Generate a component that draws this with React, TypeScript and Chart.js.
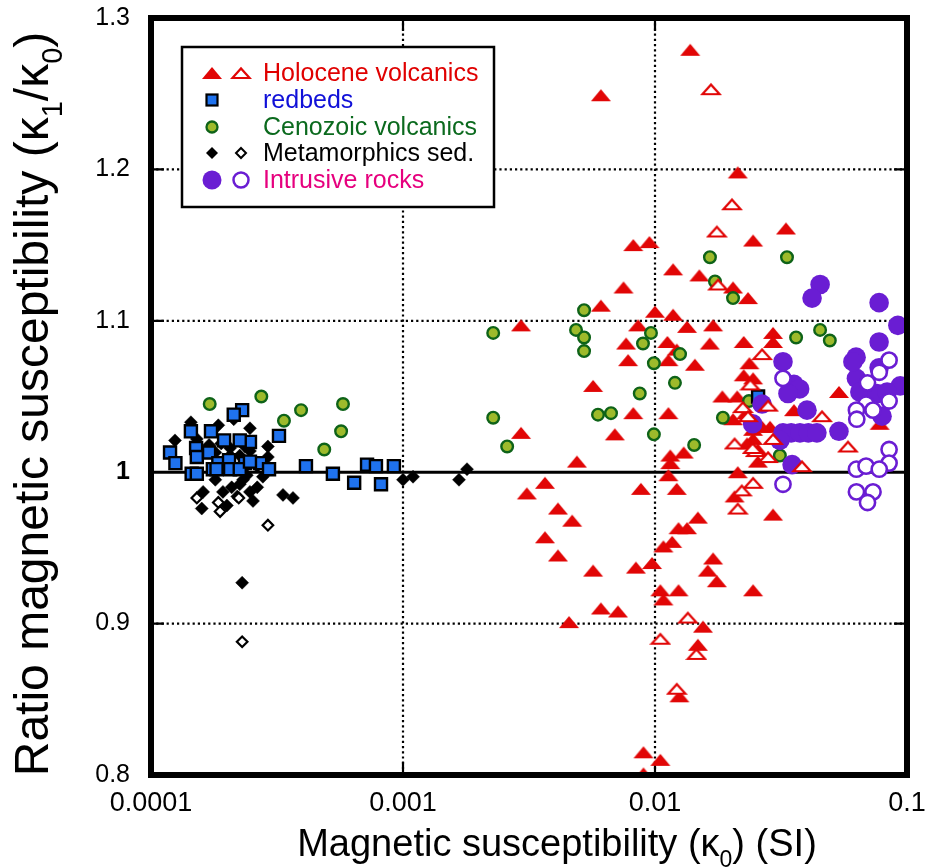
import React, { useEffect, useRef } from 'react';
import { Chart, registerables } from 'chart.js';

Chart.register(...registerables);

// ---------------- DATA ----------------
const xTickValues = [0.0001, 0.001, 0.01, 0.1];
const xTickLabels = ['0.0001', '0.001', '0.01', '0.1'];
const yTickValues = [0.8, 0.9, 1.0, 1.1, 1.2, 1.3];
const yTickLabels = ['0.8', '0.9', '1', '1.1', '1.2', '1.3'];
const dottedX = [0.001, 0.01];
const dottedY = [0.9, 1.1, 1.2];
const solidY = [1.0];

const legendLabels = ['Holocene volcanics', 'redbeds', 'Cenozoic volcanics', 'Metamorphics sed.', 'Intrusive rocks'];

const xTitleParts = [{ t: 'Magnetic susceptibility (κ' }, { t: '0', sub: true }, { t: ') (SI)' }];
const yTitleParts = [{ t: 'Ratio magnetic susceptibility (κ' }, { t: '1', sub: true }, { t: '/κ' }, { t: '0', sub: true }, { t: ')' }];

// Holocene volcanics (filled triangles)
const holoFilledX = [
  0.0138, 0.0061, 0.0213, 0.0331, 0.0245, 0.0082, 0.0095, 0.0118, 0.0150, 0.0204,
  0.0234, 0.0075, 0.0061, 0.0100, 0.0118, 0.00294, 0.00857, 0.0134, 0.0170, 0.0294,
  0.0294, 0.00768, 0.0112, 0.0122, 0.0165, 0.0225, 0.00782, 0.0113, 0.0144, 0.0237,
  0.0225, 0.0245, 0.00568, 0.0185, 0.0212, 0.0537, 0.0356, 0.0082, 0.0113, 0.0230,
  0.0204, 0.0286, 0.0245, 0.0779, 0.0245, 0.0232, 0.00294, 0.00693, 0.0115, 0.0130,
  0.0256, 0.0049, 0.0115, 0.0213, 0.0113, 0.00366, 0.0031, 0.00879, 0.0122, 0.0207,
  0.0294, 0.00412, 0.00469, 0.0148, 0.0124, 0.0134, 0.00366, 0.0117, 0.0108, 0.00412,
  0.0170, 0.00973, 0.0084, 0.0162, 0.00568, 0.0176, 0.0245, 0.0105, 0.0124, 0.0108,
  0.0061, 0.00713, 0.00456, 0.0155, 0.0148, 0.0125, 0.0090, 0.0105, 0.0090, 0.0266, 0.0256,
];
const holoFilledY = [
  1.279, 1.249, 1.198, 1.161, 1.153, 1.150, 1.152, 1.134, 1.130, 1.122,
  1.115, 1.122, 1.110, 1.106, 1.104, 1.097, 1.097, 1.096, 1.097, 1.092,
  1.086, 1.085, 1.086, 1.081, 1.085, 1.086, 1.074, 1.074, 1.071, 1.072,
  1.064, 1.062, 1.057, 1.050, 1.050, 1.053, 1.041, 1.039, 1.039, 1.039,
  1.035, 1.030, 1.028, 1.032, 1.022, 1.019, 1.026, 1.025, 1.011, 1.013,
  1.007, 1.007, 1.006, 1.000, 0.998, 0.993, 0.986, 0.989, 0.989, 0.984,
  0.972, 0.976, 0.968, 0.970, 0.963, 0.963, 0.957, 0.954, 0.951, 0.945,
  0.943, 0.940, 0.937, 0.935, 0.935, 0.928, 0.922, 0.922, 0.922, 0.916,
  0.910, 0.908, 0.901, 0.898, 0.886, 0.852, 0.815, 0.810, 0.801, 1.030, 1.015,
];

// Holocene volcanics (open triangles)
const holoOpenX = [
  0.01668, 0.0202, 0.0176, 0.0178, 0.0266, 0.0239, 0.0223, 0.0281, 0.0234, 0.0460,
  0.0207, 0.0294, 0.0251, 0.0281, 0.0383, 0.0583, 0.0245, 0.0221, 0.0213, 0.0135,
  0.0105, 0.0146, 0.0122, 0.0244,
];
const holoOpenY = [
  1.253, 1.177, 1.159, 1.124, 1.078, 1.058, 1.043, 1.044, 1.037, 1.037,
  1.019, 1.022, 1.014, 1.010, 1.004, 1.017, 0.993, 0.988, 0.976, 0.904,
  0.890, 0.880, 0.857, 1.016,
];

// redbeds (squares)
const redbedsX = [
  0.000230, 0.000213, 0.000173, 0.000144, 0.000195, 0.000247, 0.000225, 0.000322, 0.000119, 0.000151,
  0.000152, 0.000170, 0.000125, 0.000185, 0.000204, 0.000236, 0.000271, 0.000145, 0.000152, 0.000176,
  0.000206, 0.000225, 0.000294, 0.000247, 0.000182, 0.000412, 0.000527, 0.000640, 0.000720, 0.000781,
  0.000818, 0.000920, 0.02565,
];
const redbedsY = [
  1.041, 1.038, 1.027, 1.027, 1.021, 1.020, 1.021, 1.024, 1.013, 1.016,
  1.010, 1.013, 1.006, 1.006, 1.008, 1.006, 1.006, 0.999, 0.999, 1.002,
  1.002, 1.002, 1.002, 1.007, 1.002, 1.004, 0.999, 0.993, 1.005, 1.004,
  0.992, 1.004, 1.050,
];

// Cenozoic volcanics (green circles)
const cenozoicX = [
  0.000171, 0.000274, 0.000337, 0.000394, 0.000578, 0.000568, 0.000487, 0.00228, 0.00228, 0.00259,
  0.00486, 0.00523, 0.00523, 0.00523, 0.00594, 0.00669, 0.0087, 0.00896, 0.00964, 0.0099,
  0.0099, 0.0120, 0.01257, 0.0143, 0.01652, 0.0173, 0.0204, 0.0334, 0.0363, 0.0452,
  0.0494, 0.0186, 0.0236, 0.0313,
];
const cenozoicY = [
  1.045, 1.050, 1.034, 1.041, 1.045, 1.027, 1.015, 1.092, 1.036, 1.017,
  1.094, 1.107, 1.089, 1.080, 1.038, 1.039, 1.052, 1.085, 1.092, 1.072,
  1.025, 1.059, 1.078, 1.018, 1.142, 1.126, 1.115, 1.142, 1.089, 1.094,
  1.087, 1.036, 1.047, 1.011,
];

// Metamorphics sed. (filled diamonds)
const metaFilledX = [
  0.000144, 0.0001245, 0.000185, 0.000213, 0.000247, 0.000152, 0.000170, 0.000190, 0.000180, 0.000206,
  0.000236, 0.000247, 0.000291, 0.000291, 0.000206, 0.000225, 0.000264, 0.000278, 0.000180, 0.000161,
  0.000193, 0.000209, 0.000225, 0.000264, 0.000247, 0.000254, 0.000200, 0.000159, 0.000334, 0.000366,
  0.00100, 0.001096, 0.001668, 0.001795, 0.000230, 0.000232, 0.000240, 0.000220,
];
const metaFilledY = [
  1.033, 1.021, 1.031, 1.035, 1.029, 1.022, 1.018, 1.019, 1.013, 1.016,
  1.017, 1.014, 1.017, 1.010, 1.011, 1.011, 1.004, 0.997, 0.995, 0.987,
  0.987, 0.990, 0.992, 0.990, 0.987, 0.981, 0.978, 0.976, 0.985, 0.983,
  0.995, 0.997, 0.995, 1.002, 0.927, 0.995, 0.998, 0.984,
];

// Metamorphics sed. (open diamonds)
const metaOpenX = [0.000152, 0.000185, 0.000188, 0.000223, 0.000291, 0.000230];
const metaOpenY = [0.983, 0.980, 0.974, 0.983, 0.965, 0.888];

// Intrusive rocks (filled circles)
const intrusiveFilledX = [
  0.0452, 0.0420, 0.0775, 0.092, 0.0775, 0.0628, 0.0322, 0.0775, 0.063, 0.094,
  0.0356, 0.0375, 0.0337, 0.065, 0.076, 0.0834, 0.0266, 0.0401, 0.0796, 0.0244,
  0.0322, 0.0347, 0.0376, 0.0406, 0.0439, 0.0537, 0.0313, 0.0350, 0.0610,
];
const intrusiveFilledY = [
  1.124, 1.115, 1.112, 1.097, 1.086, 1.076, 1.073, 1.069, 1.062, 1.057,
  1.058, 1.055, 1.052, 1.053, 1.052, 1.053, 1.045, 1.041, 1.037, 1.032,
  1.026, 1.026, 1.026, 1.026, 1.026, 1.027, 1.021, 1.005, 1.073,
];

// Intrusive rocks (open circles)
const intrusiveOpenX = [
  0.0849, 0.0322, 0.0776, 0.0697, 0.0688, 0.0849, 0.063, 0.0733, 0.0632, 0.0849,
  0.0849, 0.063, 0.0688, 0.0776, 0.0322, 0.063, 0.0733, 0.0697,
];
const intrusiveOpenY = [
  1.074, 1.062, 1.066, 1.059, 1.045, 1.047, 1.041, 1.041, 1.035, 1.015,
  1.006, 1.002, 1.004, 1.002, 0.992, 0.987, 0.987, 0.980,
];

// ---------------- STYLE ----------------
const FAMILY = "'Liberation Sans', Arial, Helvetica, sans-serif";
const RED = '#e10606';
const BLUE_FILL = '#1f72ee';
const GREEN_FILL = '#9dba2b';
const GREEN_EDGE = '#0e6318';
const PURPLE = '#6a1dd3';
const legendTextColors = ['#e00000', '#1010d8', '#0b6a1e', '#000000', '#e6007e'];

const pts = (xs: number[], ys: number[]) => xs.map((x, i) => ({ x, y: ys[i] }));

function makeTriangle(filled: boolean): HTMLCanvasElement {
  const c = document.createElement('canvas');
  c.width = 22;
  c.height = 14;
  const g = c.getContext('2d')!;
  g.beginPath();
  if (filled) {
    g.moveTo(1, 13);
    g.lineTo(11, 1);
    g.lineTo(21, 13);
    g.closePath();
    g.fillStyle = RED;
    g.fill();
  } else {
    g.moveTo(2.4, 12);
    g.lineTo(11, 2.4);
    g.lineTo(19.6, 12);
    g.closePath();
    g.fillStyle = '#ffffff';
    g.fill();
    g.lineWidth = 2.2;
    g.strokeStyle = RED;
    g.stroke();
  }
  return c;
}

type Part = { t: string; sub?: boolean };

function drawRich(ctx: CanvasRenderingContext2D, parts: Part[], cx: number, cy: number, size: number, rot: number) {
  ctx.save();
  ctx.translate(cx, cy);
  ctx.rotate(rot);
  const mainF = `${size}px ${FAMILY}`;
  const subF = `${Math.round(size * 0.6)}px ${FAMILY}`;
  let total = 0;
  for (const p of parts) {
    ctx.font = p.sub ? subF : mainF;
    total += ctx.measureText(p.t).width;
  }
  let x = -total / 2;
  ctx.textAlign = 'left';
  ctx.textBaseline = 'alphabetic';
  ctx.fillStyle = '#000';
  for (const p of parts) {
    ctx.font = p.sub ? subF : mainF;
    ctx.fillText(p.t, x, p.sub ? size * 0.3 : 0);
    x += ctx.measureText(p.t).width;
  }
  ctx.restore();
}

export default function App() {
  const ref = useRef<HTMLCanvasElement>(null);

  useEffect(() => {
    const canvas = ref.current!;
    const triF = makeTriangle(true);
    const triO = makeTriangle(false);

    const gridPlugin = {
      id: 'gridPlugin',
      beforeDatasetsDraw(chart: any) {
        const { ctx, chartArea: a, scales } = chart;
        const xs = scales.x, ys = scales.y;
        ctx.save();
        ctx.strokeStyle = '#000';
        ctx.lineWidth = 2.2;
        ctx.setLineDash([2.2, 3]);
        for (const v of dottedX) {
          const px = xs.getPixelForValue(v);
          ctx.beginPath();
          ctx.moveTo(px, a.top);
          ctx.lineTo(px, a.bottom);
          ctx.stroke();
        }
        for (const v of dottedY) {
          const py = ys.getPixelForValue(v);
          ctx.beginPath();
          ctx.moveTo(a.left, py);
          ctx.lineTo(a.right, py);
          ctx.stroke();
        }
        ctx.setLineDash([]);
        const tl = 13;
        for (const v of dottedX) {
          const px = xs.getPixelForValue(v);
          ctx.beginPath();
          ctx.moveTo(px, a.bottom);
          ctx.lineTo(px, a.bottom - tl);
          ctx.moveTo(px, a.top);
          ctx.lineTo(px, a.top + tl);
          ctx.stroke();
        }
        for (const v of dottedY) {
          const py = ys.getPixelForValue(v);
          ctx.beginPath();
          ctx.moveTo(a.left, py);
          ctx.lineTo(a.left + tl, py);
          ctx.moveTo(a.right, py);
          ctx.lineTo(a.right - tl, py);
          ctx.stroke();
        }
        ctx.lineWidth = 3;
        for (const v of solidY) {
          const py = ys.getPixelForValue(v);
          ctx.beginPath();
          ctx.moveTo(a.left, py);
          ctx.lineTo(a.right, py);
          ctx.stroke();
        }
        ctx.restore();
      },
      afterDraw(chart: any) {
        const { ctx, chartArea: a } = chart;
        ctx.save();
        ctx.strokeStyle = '#000';
        ctx.lineWidth = 6;
        ctx.strokeRect(a.left, a.top, a.right - a.left, a.bottom - a.top);

        // legend
        const bx = 182, by = 47, bw = 312, bh = 160;
        ctx.fillStyle = '#fff';
        ctx.fillRect(bx, by, bw, bh);
        ctx.lineWidth = 2.5;
        ctx.strokeRect(bx, by, bw, bh);
        const rowsY = [73, 100, 127, 153, 180];
        const c1 = 212, c2 = 241, tx = 263;
        ctx.font = `25px ${FAMILY}`;
        ctx.textBaseline = 'middle';
        ctx.textAlign = 'left';
        legendLabels.forEach((lab, i) => {
          ctx.fillStyle = legendTextColors[i];
          ctx.fillText(lab, tx, rowsY[i] + 1);
        });
        ctx.drawImage(triF, c1 - 11, rowsY[0] - 7);
        ctx.drawImage(triO, c2 - 11, rowsY[0] - 7);
        ctx.fillStyle = BLUE_FILL;
        ctx.strokeStyle = '#000';
        ctx.lineWidth = 2.2;
        ctx.fillRect(c1 - 5.5, rowsY[1] - 5.5, 11, 11);
        ctx.strokeRect(c1 - 5.5, rowsY[1] - 5.5, 11, 11);
        ctx.beginPath();
        ctx.arc(c1, rowsY[2], 5.5, 0, Math.PI * 2);
        ctx.fillStyle = GREEN_FILL;
        ctx.fill();
        ctx.strokeStyle = GREEN_EDGE;
        ctx.lineWidth = 2.3;
        ctx.stroke();
        const diamond = (cx: number, cy: number, r: number) => {
          ctx.beginPath();
          ctx.moveTo(cx, cy - r);
          ctx.lineTo(cx + r, cy);
          ctx.lineTo(cx, cy + r);
          ctx.lineTo(cx - r, cy);
          ctx.closePath();
        };
        diamond(c1, rowsY[3], 6);
        ctx.fillStyle = '#000';
        ctx.fill();
        diamond(c2, rowsY[3], 5);
        ctx.fillStyle = '#fff';
        ctx.fill();
        ctx.strokeStyle = '#000';
        ctx.lineWidth = 2;
        ctx.stroke();
        ctx.beginPath();
        ctx.arc(c1, rowsY[4], 9.5, 0, Math.PI * 2);
        ctx.fillStyle = PURPLE;
        ctx.fill();
        ctx.beginPath();
        ctx.arc(c2, rowsY[4], 7.5, 0, Math.PI * 2);
        ctx.fillStyle = '#fff';
        ctx.fill();
        ctx.strokeStyle = PURPLE;
        ctx.lineWidth = 2.5;
        ctx.stroke();

        // axis titles
        drawRich(ctx, xTitleParts, 557, 856, 38, 0);
        drawRich(ctx, yTitleParts, 48, 404, 48, -Math.PI / 2);
        ctx.restore();
      },
    };

    const chart = new Chart(canvas, {
      type: 'scatter',
      data: {
        datasets: [
          { label: 'Holocene volcanics', data: pts(holoFilledX, holoFilledY), pointStyle: triF as any, pointRadius: 10, order: 8 },
          {
            label: 'Cenozoic volcanics', data: pts(cenozoicX, cenozoicY), pointStyle: 'circle', pointRadius: 5.8,
            backgroundColor: GREEN_FILL, borderColor: GREEN_EDGE, borderWidth: 2.4, order: 7,
          },
          {
            label: 'Metamorphics sed.', data: pts(metaFilledX, metaFilledY), pointStyle: 'rectRot', pointRadius: 6.5,
            backgroundColor: '#000', borderColor: '#000', borderWidth: 0.5, order: 6,
          },
          {
            label: 'redbeds', data: pts(redbedsX, redbedsY), pointStyle: 'rect', pointRadius: 8.5,
            backgroundColor: BLUE_FILL, borderColor: '#000', borderWidth: 2.4, order: 5,
          },
          {
            label: 'Metamorphics sed. (open)', data: pts(metaOpenX, metaOpenY), pointStyle: 'rectRot', pointRadius: 5.3,
            backgroundColor: '#fff', borderColor: '#000', borderWidth: 2.2, order: 4,
          },
          {
            label: 'Intrusive rocks', data: pts(intrusiveFilledX, intrusiveFilledY), pointStyle: 'circle', pointRadius: 9.8,
            backgroundColor: PURPLE, borderColor: PURPLE, borderWidth: 0, order: 3,
          },
          { label: 'Holocene volcanics (open)', data: pts(holoOpenX, holoOpenY), pointStyle: triO as any, pointRadius: 10, order: 2 },
          {
            label: 'Intrusive rocks (open)', data: pts(intrusiveOpenX, intrusiveOpenY), pointStyle: 'circle', pointRadius: 7.6,
            backgroundColor: '#fff', borderColor: PURPLE, borderWidth: 2.6, order: 1,
          },
        ],
      },
      options: {
        responsive: false,
        animation: false,
        devicePixelRatio: 1,
        events: [],
        layout: { padding: { top: 18, right: 20, left: 0, bottom: 0 } },
        plugins: { legend: { display: false }, tooltip: { enabled: false } },
        scales: {
          x: {
            type: 'logarithmic',
            min: 0.0001,
            max: 0.1,
            grid: { display: false, drawTicks: false },
            border: { display: false },
            afterBuildTicks: (s: any) => {
              s.ticks = xTickValues.map((v) => ({ value: v }));
            },
            afterFit: (s: any) => {
              s.height = 92;
              s.paddingLeft = 0;
              s.paddingRight = 0;
            },
            ticks: {
              autoSkip: false,
              maxRotation: 0,
              padding: 12,
              color: '#000',
              font: { size: 27, family: FAMILY },
              callback: (_v: any, i: number) => xTickLabels[i],
            },
            title: { display: false },
          },
          y: {
            type: 'linear',
            min: 0.8,
            max: 1.3,
            grid: { display: false, drawTicks: false },
            border: { display: false },
            afterBuildTicks: (s: any) => {
              s.ticks = yTickValues.map((v) => ({ value: v }));
            },
            afterFit: (s: any) => {
              s.width = 151;
              s.paddingTop = 0;
              s.paddingBottom = 0;
            },
            ticks: {
              autoSkip: false,
              padding: 21,
              color: '#000',
              font: (c: any) => ({
                size: 25,
                family: FAMILY,
                weight: c.tick && Math.abs(c.tick.value - 1) < 1e-9 ? 'bold' : 'normal',
              }),
              callback: (_v: any, i: number) => yTickLabels[i],
            },
            title: { display: false },
          },
        },
      },
      plugins: [gridPlugin],
    } as any);

    return () => chart.destroy();
  }, []);

  return (
    <div style={{ position: 'absolute', left: 0, top: 0, width: 927, height: 867, background: '#fff' }}>
      <canvas ref={ref} width={927} height={867} style={{ display: 'block', width: 927, height: 867 }} />
    </div>
  );
}
